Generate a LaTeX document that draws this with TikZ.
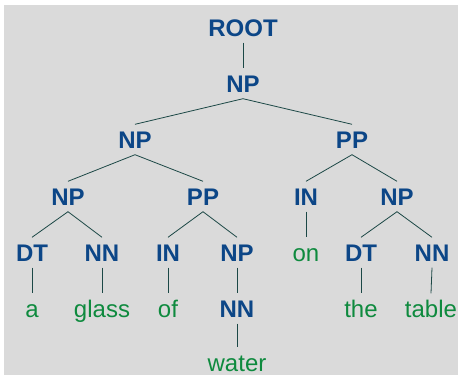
\documentclass[tikz,border=0pt]{standalone}
\usepackage{fontspec}
\setmainfont{Liberation Sans}
\definecolor{bggray}{RGB}{218,218,218}
\definecolor{tagblue}{RGB}{12,70,135}
\definecolor{wordgreen}{RGB}{14,138,62}
\definecolor{branch}{RGB}{28,72,70}
\tikzset{
  tag/.style={font=\fontsize{24}{28}\selectfont\bfseries,text=tagblue,anchor=base,
    text height=17pt,text depth=0pt,inner xsep=0pt,inner ysep=6.5pt},
  word/.style={tag,font=\fontsize{24}{28}\selectfont,text=wordgreen},
  branchline/.style={draw=branch,line width=0.8pt}
}
\begin{document}
\begin{tikzpicture}[x=1pt,y=-1pt]
\useasboundingbox (0,0) rectangle (458,375);
\fill[bggray] (4,5) rectangle (458,375);
\node[tag] (root) at (243,36) {ROOT};
\node[tag] (np) at (243,92) {NP};
\node[tag] (npl) at (135,148) {NP};
\node[tag] (ppr) at (352,148) {PP};
\node[tag] (npll) at (68,205) {NP};
\node[tag] (pplr) at (203,205) {PP};
\node[tag] (inr) at (306,205) {IN};
\node[tag] (nprr) at (397,205) {NP};
\node[tag] (dta) at (32,261) {DT};
\node[tag] (nnglass) at (102,261) {NN};
\node[tag] (inof) at (168,261) {IN};
\node[tag] (npwater) at (237,261) {NP};
\node[word] (on) at (306,261) {on};
\node[tag] (dtthe) at (361,261) {DT};
\node[tag] (nntable) at (432,261) {NN};
\node[word] (a) at (32,317) {a};
\node[word] (glass) at (102,317) {glass};
\node[word] (of) at (168,317) {of};
\node[tag] (nnwater) at (237,317) {NN};
\node[word] (the) at (361,317) {the};
\node[word] (table) at (431,317) {table};
\node[word] (water) at (237,371) {water};
\draw[branchline] (root.south) -- (np.north);
\draw[branchline] (npl.north) -- (np.south) -- (ppr.north);
\draw[branchline] (npll.north) -- (npl.south) -- (pplr.north);
\draw[branchline] (inr.north) -- (ppr.south) -- (nprr.north);
\draw[branchline] (dta.north) -- (npll.south) -- (nnglass.north);
\draw[branchline] (inof.north) -- (pplr.south) -- (npwater.north);
\draw[branchline] (dtthe.north) -- (nprr.south) -- (nntable.north);
\draw[branchline] (inr.south) -- (on.north);
\draw[branchline] (dta.south) -- (a.north);
\draw[branchline] (nnglass.south) -- (glass.north);
\draw[branchline] (inof.south) -- (of.north);
\draw[branchline] (npwater.south) -- (nnwater.north);
\draw[branchline] (nnwater.south) -- (water.north);
\draw[branchline] (dtthe.south) -- (the.north);
\draw[branchline] (nntable.south) -- (table.north);
\end{tikzpicture}
\end{document}
